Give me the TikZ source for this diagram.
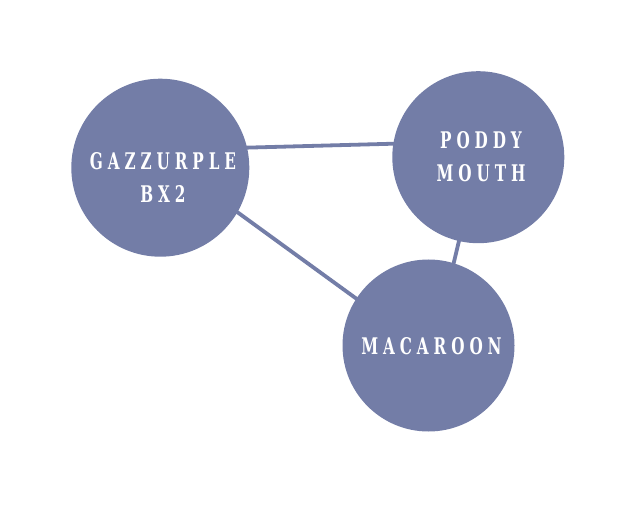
\documentclass[tikz,border=0pt]{standalone}
\usepackage{fontspec}
\usetikzlibrary{backgrounds}
\newfontfamily\lab{DejaVu Serif}[FakeStretch=0.665,LetterSpace=21.5]
\definecolor{nodeblue}{RGB}{115,125,167}
\tikzset{
  bub/.style={circle,fill=nodeblue,draw=none,inner sep=0pt},
  lbl/.style={text=white,align=center,font=\lab\bfseries\fontsize{23}{33}\selectfont,inner sep=0pt},
  link/.style={draw=nodeblue,line width=3.8bp,shorten <=-3bp,shorten >=-3bp}
}
\begin{document}
\begin{tikzpicture}[x=1bp,y=-1bp]
\useasboundingbox (0,0) rectangle (640,518);
\node[bub,minimum size=178bp] (g) at (160.3,167.7) {};
\node[bub,minimum size=172bp] (p) at (478.3,157.2) {};
\node[bub,minimum size=172bp] (m) at (428.5,345.5) {};
\node[lbl] (gt) at (163,177.5) {GAZZURPLE\\BX2};
\node[lbl] (pt) at (481,156.5) {PODDY\\MOUTH};
\node[lbl] (mt) at (431.5,346.5) {MACAROON};
\begin{scope}[on background layer]
\draw[link] (g.13) -- (p.171.3);
\draw[link] (g.-30) -- (m.147.3);
\draw[link] (p.-103.3) -- (m.73.5);
\end{scope}
\end{tikzpicture}
\end{document}
